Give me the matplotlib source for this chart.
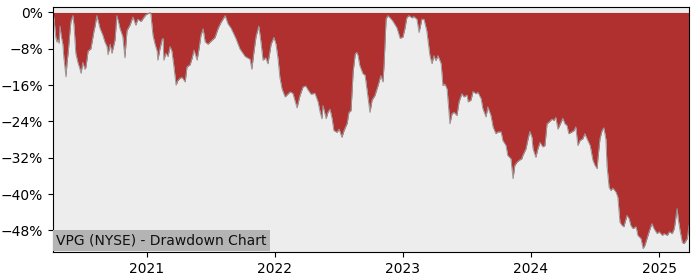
import pandas as pd
import matplotlib
matplotlib.use("Agg")
import matplotlib.pyplot as plt
import matplotlib.dates as mdates
from matplotlib.ticker import PercentFormatter

# drawdown readings (percent below running peak)
dates = [
    "2020-04-08", "2020-04-11", "2020-04-14", "2020-04-16", "2020-04-19", "2020-04-22",
    "2020-04-25", "2020-04-28", "2020-05-01", "2020-05-06", "2020-05-09", "2020-05-15",
    "2020-05-18", "2020-05-21", "2020-05-26", "2020-05-29", "2020-06-04", "2020-06-07",
    "2020-06-12", "2020-06-18", "2020-06-24", "2020-06-27", "2020-07-02", "2020-07-08",
    "2020-07-11", "2020-07-17", "2020-07-25", "2020-08-03", "2020-08-06", "2020-08-11",
    "2020-08-20", "2020-08-28", "2020-09-03", "2020-09-09", "2020-09-12", "2020-09-18",
    "2020-09-23", "2020-09-26", "2020-10-02", "2020-10-07", "2020-10-13", "2020-10-16",
    "2020-10-24", "2020-10-30", "2020-11-05", "2020-11-14", "2020-11-22", "2020-11-30",
    "2020-12-06", "2020-12-15", "2020-12-24", "2020-12-29",
    "2021-01-10", "2021-01-12", "2021-01-18", "2021-01-24", "2021-01-30", "2021-02-01",
    "2021-02-07", "2021-02-13", "2021-02-16", "2021-02-18", "2021-02-24", "2021-03-02",
    "2021-03-08", "2021-03-13", "2021-03-19", "2021-03-25", "2021-03-30", "2021-04-05",
    "2021-04-11", "2021-04-20", "2021-04-25", "2021-05-04", "2021-05-10", "2021-05-15",
    "2021-05-24", "2021-05-30", "2021-06-04", "2021-06-10", "2021-06-16", "2021-06-24",
    "2021-07-03", "2021-07-14", "2021-07-23", "2021-07-31", "2021-08-12", "2021-08-20",
    "2021-08-29", "2021-09-12", "2021-09-23", "2021-10-08", "2021-10-22", "2021-10-27",
    "2021-11-02", "2021-11-08", "2021-11-16", "2021-11-22", "2021-11-28", "2021-12-06",
    "2021-12-12", "2021-12-21", "2021-12-29",
    "2022-01-04", "2022-01-10", "2022-01-15", "2022-01-21", "2022-01-30", "2022-02-04",
    "2022-02-13", "2022-02-21", "2022-03-05", "2022-03-13", "2022-03-22", "2022-03-30",
    "2022-04-05", "2022-04-14", "2022-04-25", "2022-05-04", "2022-05-10", "2022-05-15",
    "2022-05-18", "2022-05-27", "2022-06-01", "2022-06-07", "2022-06-13", "2022-06-18",
    "2022-06-27", "2022-07-03", "2022-07-11", "2022-07-17", "2022-07-26", "2022-07-31",
    "2022-08-06", "2022-08-12", "2022-08-18", "2022-08-23", "2022-08-26", "2022-08-31",
    "2022-09-09", "2022-09-15", "2022-09-20", "2022-09-29", "2022-10-05", "2022-10-13",
    "2022-10-22", "2022-10-30", "2022-11-05", "2022-11-08", "2022-11-14", "2022-11-19",
    "2022-11-28", "2022-12-04", "2022-12-15", "2022-12-24",
    "2023-01-01", "2023-01-07", "2023-01-12", "2023-01-18", "2023-01-27", "2023-02-01",
    "2023-02-10", "2023-02-16", "2023-02-24", "2023-03-02", "2023-03-10", "2023-03-19",
    "2023-03-25", "2023-03-30", "2023-04-05", "2023-04-11", "2023-04-20", "2023-04-25",
    "2023-05-01", "2023-05-07", "2023-05-15", "2023-05-21", "2023-05-27", "2023-06-04",
    "2023-06-10", "2023-06-18", "2023-06-24", "2023-07-03", "2023-07-06", "2023-07-14",
    "2023-07-20", "2023-07-28", "2023-08-03", "2023-08-12", "2023-08-17", "2023-08-26",
    "2023-08-31", "2023-09-09", "2023-09-15", "2023-09-23", "2023-09-29", "2023-10-08",
    "2023-10-13", "2023-10-22", "2023-10-27", "2023-11-05", "2023-11-11", "2023-11-16",
    "2023-11-22", "2023-11-28", "2023-12-06", "2023-12-09", "2023-12-18", "2023-12-24",
    "2023-12-29",
    "2024-01-04", "2024-01-07", "2024-01-15", "2024-01-21", "2024-01-27", "2024-02-04",
    "2024-02-10", "2024-02-16", "2024-02-21", "2024-03-01", "2024-03-07", "2024-03-12",
    "2024-03-18", "2024-03-27", "2024-04-01", "2024-04-07", "2024-04-13", "2024-04-18",
    "2024-04-27", "2024-05-03", "2024-05-08", "2024-05-14", "2024-05-20", "2024-05-28",
    "2024-06-03", "2024-06-09", "2024-06-18", "2024-06-26", "2024-07-02", "2024-07-08",
    "2024-07-10", "2024-07-16", "2024-07-22", "2024-07-27", "2024-08-02", "2024-08-05",
    "2024-08-11", "2024-08-16", "2024-08-22", "2024-08-31", "2024-09-05", "2024-09-11",
    "2024-09-17", "2024-09-22", "2024-10-01", "2024-10-07", "2024-10-12", "2024-10-18",
    "2024-10-27", "2024-11-01", "2024-11-10", "2024-11-16", "2024-11-21", "2024-11-27",
    "2024-12-03", "2024-12-11", "2024-12-17", "2024-12-26",
    "2025-01-01", "2025-01-10", "2025-01-15", "2025-01-24", "2025-01-30", "2025-02-07",
    "2025-02-13", "2025-02-21", "2025-02-24", "2025-03-02", "2025-03-08", "2025-03-13",
    "2025-03-22", "2025-03-27",
]

drawdown = [
    0.0, -1.5, -4.0, -5.5, -6.5, -6.0,
    -6.8, -3.0, -5.0, -7.0, -10.0, -14.2,
    -11.0, -9.0, -4.5, -2.0, -0.7, -3.0,
    -9.0, -11.0, -12.5, -13.4, -11.0, -12.5,
    -12.0, -8.5, -8.0, -4.0, -3.0, -0.7,
    -3.5, -5.0, -6.5, -7.5, -9.3, -7.0,
    -9.0, -8.0, -6.0, -0.7, -2.5, -3.5,
    -5.3, -10.0, -4.0, -2.7, -1.0, -2.8,
    -1.5, -2.0, -1.0, -0.5,
    0.0, -0.3, -5.0, -7.0, -8.5, -10.5,
    -8.0, -6.0, -5.7, -10.5, -9.0, -9.7,
    -7.5, -8.5, -12.0, -16.0, -15.0, -14.5,
    -14.3, -15.3, -12.0, -11.5, -10.0, -8.3,
    -10.5, -7.7, -5.0, -3.6, -6.5, -7.0,
    -6.3, -5.5, -3.5, -2.2, -0.7, -2.5,
    -3.5, -5.8, -8.0, -9.7, -10.3, -12.5,
    -8.7, -5.3, -3.0, -6.5, -10.5, -10.0,
    -11.3, -7.0, -5.5,
    -7.0, -10.3, -14.3, -16.8, -18.6, -18.2,
    -17.5, -17.8, -21.0, -18.4, -16.4, -16.2,
    -17.0, -18.0, -17.8, -19.7, -22.0, -23.4,
    -20.5, -23.4, -22.0, -21.3, -23.4, -26.0,
    -26.4, -25.7, -27.5, -26.0, -24.4, -22.0,
    -21.6, -13.1, -9.1, -8.8, -9.5, -11.7,
    -13.5, -13.8, -16.7, -22.0, -19.3, -18.3,
    -16.1, -13.9, -15.3, -11.7, -1.4, -0.7,
    -1.4, -2.0, -3.4, -5.7,
    -5.4, -3.4, -1.2, -0.7, -1.2, -0.9,
    -1.5, -4.4, -1.5, -1.5, -4.0, -9.5,
    -11.3, -9.5, -10.6, -9.5, -11.3, -16.1,
    -15.8, -16.9, -24.5, -22.3, -22.0, -22.7,
    -19.7, -17.9, -18.6, -18.2, -19.7, -19.3,
    -17.4, -17.9, -17.6, -19.0, -21.2, -23.0,
    -20.8, -22.7, -25.2, -26.7, -26.3, -26.3,
    -28.2, -29.3, -31.5, -32.2, -36.6, -33.7,
    -33.0, -32.6, -32.2, -31.5, -30.0, -27.8,
    -26.2,
    -27.5, -30.0, -31.9, -30.0, -28.6, -29.6,
    -29.3, -24.5, -24.2, -23.5, -23.8, -23.1,
    -25.7, -24.2, -23.3, -24.5, -24.9, -26.7,
    -26.3, -26.0, -25.2, -29.3, -28.2, -27.8,
    -26.7, -27.8, -29.3, -32.6, -33.7, -34.4,
    -32.2, -27.8, -26.0, -25.4, -28.0, -33.7,
    -38.5, -39.2, -38.7, -39.6, -40.7, -46.2,
    -46.9, -47.2, -44.7, -45.4, -46.9, -47.6,
    -47.2, -49.1, -49.8, -52.0, -51.3, -49.8,
    -48.3, -46.5, -47.6, -48.7,
    -48.3, -49.1, -48.7, -49.1, -48.3, -48.7,
    -47.6, -43.2, -45.4, -48.3, -50.7, -50.9,
    -49.8, -46.9,
]

title = "VPG (NYSE) - Drawdown Chart"
yticks = [0, -8, -16, -24, -32, -40, -48]

x = pd.to_datetime(dates)

fig = plt.figure(figsize=(7, 2.8), dpi=100)
ax = fig.add_axes([0.0757, 0.1, 0.9086, 0.875])
ax.set_facecolor("#ededed")

ax.fill_between(x, drawdown, 0, color="#b03030", linewidth=0)
ax.plot(x, drawdown, color="#999999", linewidth=0.7)

ax.set_xlim(x[0], x[-1])
ax.set_ylim(-52.75, 1.2)
ax.set_yticks(yticks)
ax.yaxis.set_major_formatter(PercentFormatter(decimals=0))
ax.xaxis.set_major_locator(mdates.YearLocator())
ax.xaxis.set_major_formatter(mdates.DateFormatter("%Y"))

ax.annotate(title, xy=(0, 0), xycoords="axes fraction",
            xytext=(2.5, 3), textcoords="offset points",
            ha="left", va="bottom", fontsize=10, color="#111111",
            bbox=dict(facecolor="#b4b4b4", edgecolor="none", pad=2.5))

fig.savefig("out.png")
